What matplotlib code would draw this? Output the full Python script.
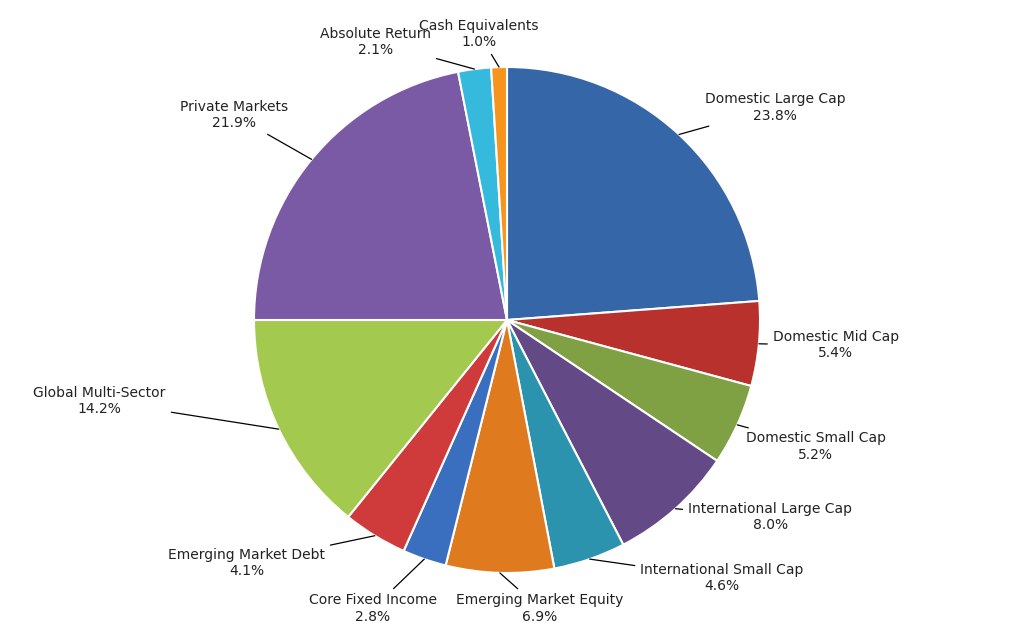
import matplotlib
matplotlib.use("Agg")
import matplotlib.pyplot as plt
import numpy as np

labels = ["Domestic Large Cap", "Domestic Mid Cap", "Domestic Small Cap",
          "International Large Cap", "International Small Cap",
          "Emerging Market Equity", "Core Fixed Income", "Emerging Market Debt",
          "Global Multi-Sector", "Private Markets", "Absolute Return",
          "Cash Equivalents"]
values = [23.8, 5.4, 5.2, 8.0, 4.6, 6.9, 2.8, 4.1, 14.2, 21.9, 2.1, 1.0]

colors = ["#3567a8", "#b8312c", "#7fa043", "#634a86", "#2b93ad", "#e07a1e",
          "#3a6fbf", "#cf3b3b", "#a3c94e", "#7a5aa4", "#35b9dc", "#f7941d"]

# label text centres in data units (pie radius = 1)
label_pos = [(1.06, 0.84), (1.30, -0.10), (1.22, -0.50), (1.04, -0.78),
             (0.85, -1.02), (0.13, -1.14), (-0.53, -1.14), (-1.03, -0.96),
             (-1.61, -0.32), (-1.08, 0.81), (-0.52, 1.10), (-0.11, 1.13)]

fig = plt.figure(figsize=(10.3, 6.26), dpi=100)
ax = fig.add_axes([(507 - 253) / 1030, (626 - 573) / 626, 506 / 1030, 506 / 626])

wedges, _ = ax.pie(values, colors=colors, startangle=90, counterclock=False,
                   radius=1.0,
                   wedgeprops=dict(edgecolor="white", linewidth=1.5))

for w in wedges:
    w.set_edgecolor("white")

for w, lab, val, (tx, ty) in zip(wedges, labels, values, label_pos):
    ang = np.deg2rad((w.theta1 + w.theta2) / 2)
    px, py = np.cos(ang) * 1.0, np.sin(ang) * 1.0
    ax.annotate(f"{lab}\n{val:.1f}%", xy=(px, py), xytext=(tx, ty),
                ha="center", va="center", fontsize=10, color="#222222",
                arrowprops=dict(arrowstyle="-", color="black", lw=0.9,
                                shrinkA=2, shrinkB=0))

ax.set_xlim(-1, 1)
ax.set_ylim(-1, 1)
ax.set_aspect("equal")
ax.axis("off")

fig.savefig("out.png", dpi=100)
